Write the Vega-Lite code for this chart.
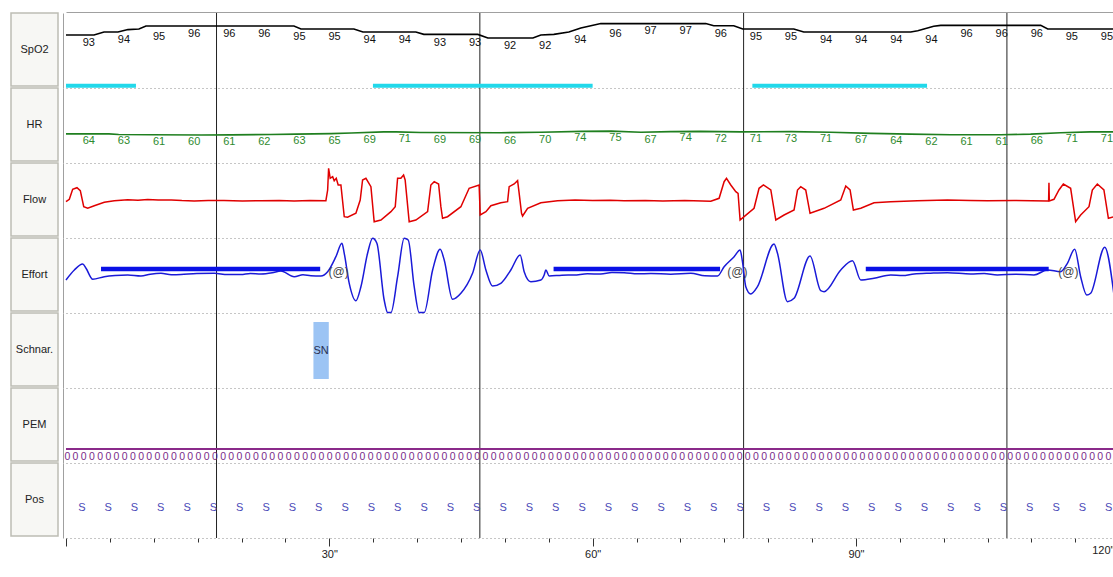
{
 "$schema": "https://vega.github.io/schema/vega-lite/v6.json",
 "background": "white",
 "padding": {"left": 10, "top": 12, "right": 0, "bottom": 0},
 "spacing": 3,
 "config": {"view": {"stroke": null}, "axis": {"grid": false}},
 "datasets": {
  "epochs": [{"t": 17.15}, {"t": 47.15}, {"t": 77.2}, {"t": 107.2}],
  "spo2_line": [
   {"t": 0, "spo2": 93}, {"t": 3.19, "spo2": 93}, {"t": 4.33, "spo2": 94}, {"t": 5.92, "spo2": 94}, {"t": 7.06, "spo2": 94.8}, {"t": 8.31, "spo2": 95}, {"t": 9.11, "spo2": 96}, {"t": 25.97, "spo2": 96}, {"t": 26.77, "spo2": 95}, {"t": 32.8, "spo2": 95}, {"t": 33.83, "spo2": 94}, {"t": 39.86, "spo2": 94}, {"t": 40.77, "spo2": 93.2}, {"t": 46.92, "spo2": 93.2}, {"t": 48.06, "spo2": 92}, {"t": 53.19, "spo2": 92}, {"t": 54.1, "spo2": 93}, {"t": 55.58, "spo2": 93.2}, {"t": 57.29, "spo2": 94}, {"t": 58.66, "spo2": 95.3}, {"t": 60.93, "spo2": 96.8}, {"t": 72.89, "spo2": 96.8}, {"t": 73.8, "spo2": 96.1}, {"t": 76.08, "spo2": 96.1}, {"t": 77.1, "spo2": 95}, {"t": 82.92, "spo2": 95}, {"t": 84.05, "spo2": 94}, {"t": 96.24, "spo2": 94}, {"t": 97.04, "spo2": 94.4}, {"t": 98.86, "spo2": 95.9}, {"t": 99.66, "spo2": 96.2}, {"t": 111.05, "spo2": 96.2}, {"t": 111.85, "spo2": 95}, {"t": 119.4, "spo2": 95}
  ],
  "spo2_labels": [
   {"t": 2.6, "spo2": 93}, {"t": 6.6, "spo2": 94}, {"t": 10.6, "spo2": 95}, {"t": 14.6, "spo2": 96}, {"t": 18.6, "spo2": 96}, {"t": 22.6, "spo2": 96}, {"t": 26.6, "spo2": 95}, {"t": 30.6, "spo2": 95}, {"t": 34.6, "spo2": 94}, {"t": 38.6, "spo2": 94}, {"t": 42.6, "spo2": 93}, {"t": 46.6, "spo2": 93}, {"t": 50.6, "spo2": 92}, {"t": 54.6, "spo2": 92}, {"t": 58.6, "spo2": 94}, {"t": 62.6, "spo2": 96}, {"t": 66.6, "spo2": 97}, {"t": 70.6, "spo2": 97}, {"t": 74.6, "spo2": 96}, {"t": 78.6, "spo2": 95}, {"t": 82.6, "spo2": 95}, {"t": 86.6, "spo2": 94}, {"t": 90.6, "spo2": 94}, {"t": 94.6, "spo2": 94}, {"t": 98.6, "spo2": 94}, {"t": 102.6, "spo2": 96}, {"t": 106.6, "spo2": 96}, {"t": 110.6, "spo2": 96}, {"t": 114.6, "spo2": 95}, {"t": 118.6, "spo2": 95}
  ],
  "desat": [
   {"start": 0, "end": 7.97, "event": "desat"}, {"start": 34.97, "end": 60.0, "event": "desat"}, {"start": 78.2, "end": 98.1, "event": "desat"}
  ],
  "hr_line": [
   {"t": 0, "hr": 64}, {"t": 4.9, "hr": 64}, {"t": 6.0, "hr": 62}, {"t": 9.7, "hr": 61}, {"t": 15.4, "hr": 60}, {"t": 18.8, "hr": 60.5}, {"t": 23.3, "hr": 62}, {"t": 26.2, "hr": 63}, {"t": 30.2, "hr": 65}, {"t": 32.5, "hr": 67}, {"t": 36.2, "hr": 71}, {"t": 37.6, "hr": 71}, {"t": 40.4, "hr": 69}, {"t": 49.5, "hr": 68}, {"t": 54.1, "hr": 70}, {"t": 58.7, "hr": 73}, {"t": 62.1, "hr": 74}, {"t": 65.5, "hr": 70}, {"t": 68.9, "hr": 72}, {"t": 72.3, "hr": 73}, {"t": 76.9, "hr": 71}, {"t": 82.6, "hr": 72}, {"t": 87.1, "hr": 70}, {"t": 91.7, "hr": 66}, {"t": 96.2, "hr": 63}, {"t": 100.8, "hr": 61}, {"t": 106.5, "hr": 61}, {"t": 109.9, "hr": 63}, {"t": 113.3, "hr": 68}, {"t": 116.7, "hr": 71}, {"t": 119.4, "hr": 71}
  ],
  "hr_labels": [
   {"t": 2.6, "hr": 64}, {"t": 6.6, "hr": 63}, {"t": 10.6, "hr": 61}, {"t": 14.6, "hr": 60}, {"t": 18.6, "hr": 61}, {"t": 22.6, "hr": 62}, {"t": 26.6, "hr": 63}, {"t": 30.6, "hr": 65}, {"t": 34.6, "hr": 69}, {"t": 38.6, "hr": 71}, {"t": 42.6, "hr": 69}, {"t": 46.6, "hr": 69}, {"t": 50.6, "hr": 66}, {"t": 54.6, "hr": 70}, {"t": 58.6, "hr": 74}, {"t": 62.6, "hr": 75}, {"t": 66.6, "hr": 67}, {"t": 70.6, "hr": 74}, {"t": 74.6, "hr": 72}, {"t": 78.6, "hr": 71}, {"t": 82.6, "hr": 73}, {"t": 86.6, "hr": 71}, {"t": 90.6, "hr": 67}, {"t": 94.6, "hr": 64}, {"t": 98.6, "hr": 62}, {"t": 102.6, "hr": 61}, {"t": 106.6, "hr": 61}, {"t": 110.6, "hr": 66}, {"t": 114.6, "hr": 71}, {"t": 118.6, "hr": 71}
  ],
  "flow": [
   {"t": 0, "v": -1}, {"t": 0.38, "v": 1.4}, {"t": 0.76, "v": 11.4}, {"t": 1.25, "v": 13}, {"t": 1.63, "v": 10}, {"t": 2.02, "v": -6}, {"t": 2.47, "v": -7.6}, {"t": 3.22, "v": -5}, {"t": 4.36, "v": -1.6}, {"t": 5.5, "v": 0}, {"t": 7.03, "v": 1}, {"t": 8.2, "v": 0.4}, {"t": 9.31, "v": 1.2}, {"t": 10.5, "v": 0.6}, {"t": 12, "v": 0.8}, {"t": 13.2, "v": 0.1}, {"t": 14.61, "v": -0.3}, {"t": 16.2, "v": 0.3}, {"t": 18, "v": 0.3}, {"t": 20.1, "v": -0.2}, {"t": 22.21, "v": 0}, {"t": 24.3, "v": 0.3}, {"t": 26, "v": -0.4}, {"t": 27.8, "v": 0.2}, {"t": 29.61, "v": 0},
   {"t": 29.81, "v": 10.7}, {"t": 29.92, "v": 32.4}, {"t": 30.1, "v": 22.4}, {"t": 30.38, "v": 24}, {"t": 30.56, "v": 20}, {"t": 30.79, "v": 22.4}, {"t": 31.01, "v": 15.7}, {"t": 31.32, "v": 15.7}, {"t": 31.7, "v": -16}, {"t": 32.08, "v": -16.6}, {"t": 33.03, "v": -12.6}, {"t": 33.52, "v": 0.7}, {"t": 33.79, "v": 20.7}, {"t": 34.17, "v": 22.4}, {"t": 34.74, "v": 14}, {"t": 35.11, "v": -21}, {"t": 35.88, "v": -19.3}, {"t": 37.02, "v": -11}, {"t": 37.51, "v": -6}, {"t": 37.78, "v": 22.4}, {"t": 38.15, "v": 22.4}, {"t": 38.46, "v": 25.7}, {"t": 38.64, "v": 20.7}, {"t": 39.1, "v": -21}, {"t": 39.86, "v": -19.3}, {"t": 41.2, "v": -11}, {"t": 41.57, "v": 15.7}, {"t": 41.95, "v": 19}, {"t": 42.45, "v": 16.7}, {"t": 42.71, "v": -6}, {"t": 42.9, "v": -17.6}, {"t": 43.47, "v": -16}, {"t": 44.99, "v": -6}, {"t": 45.93, "v": 12.4}, {"t": 47.07, "v": 15.7}, {"t": 47.19, "v": -14.3}, {"t": 47.84, "v": -11}, {"t": 48.41, "v": -5}, {"t": 49.54, "v": -2}, {"t": 50.31, "v": -1}, {"t": 50.49, "v": 14}, {"t": 51.06, "v": 16.7}, {"t": 51.45, "v": 20}, {"t": 51.63, "v": 7.4}, {"t": 51.9, "v": -12.6}, {"t": 52.02, "v": -15.3}, {"t": 52.59, "v": -7.6}, {"t": 54.1, "v": -2}, {"t": 56, "v": 0}, {"t": 58, "v": 0.6}, {"t": 60, "v": 0.2}, {"t": 62, "v": 0.5}, {"t": 63.59, "v": 0}, {"t": 66, "v": 0.3}, {"t": 68, "v": -0.2}, {"t": 70.5, "v": 0.3}, {"t": 73.46, "v": -0.6},
   {"t": 74.41, "v": 2.4}, {"t": 74.98, "v": 19}, {"t": 75.25, "v": 22.4}, {"t": 75.74, "v": 15.7}, {"t": 76.31, "v": 9}, {"t": 76.57, "v": 7.4}, {"t": 76.8, "v": -19.3}, {"t": 77.26, "v": -16}, {"t": 78.39, "v": -7.6}, {"t": 78.96, "v": 12.4}, {"t": 79.46, "v": 15.7}, {"t": 80.3, "v": 10.7}, {"t": 80.87, "v": -19.3}, {"t": 81.81, "v": -14.3}, {"t": 82.95, "v": -9.3}, {"t": 83.34, "v": 10.7}, {"t": 83.71, "v": 14}, {"t": 84.28, "v": 10.7}, {"t": 84.77, "v": -12.6}, {"t": 86.37, "v": -7.6}, {"t": 88.27, "v": 0.7}, {"t": 88.84, "v": 14.7}, {"t": 89.33, "v": 10.7}, {"t": 89.71, "v": -9.3}, {"t": 90.55, "v": -7.6}, {"t": 92.06, "v": -2}, {"t": 93.96, "v": -1}, {"t": 97, "v": 0}, {"t": 100.42, "v": 0.7}, {"t": 103, "v": 0.1}, {"t": 105, "v": 0}, {"t": 108, "v": 0.3}, {"t": 111.81, "v": -0.3}, {"t": 111.95, "v": -0.3}, {"t": 111.99, "v": 18}, {"t": 112.03, "v": -0.3}, {"t": 112.56, "v": 1.4}, {"t": 113.13, "v": 10.7}, {"t": 113.63, "v": 16.7}, {"t": 114.46, "v": 12.4}, {"t": 115.03, "v": -21}, {"t": 115.6, "v": -14.3}, {"t": 116.55, "v": -6}, {"t": 116.93, "v": 10.7}, {"t": 117.5, "v": 16.7}, {"t": 118.25, "v": 10.7}, {"t": 118.76, "v": -17.6}, {"t": 119.4, "v": -16}
  ],
  "effort": [
   {"t": 0, "v": -5}, {"t": 0.95, "v": 5}, {"t": 1.9, "v": 11}, {"t": 2.28, "v": 6.7}, {"t": 3.04, "v": -4.3}, {"t": 4.36, "v": -1.7}, {"t": 5.6, "v": -0.5}, {"t": 7.03, "v": 0}, {"t": 8.54, "v": -1}, {"t": 9.6, "v": 0.8}, {"t": 10.82, "v": 1.7}, {"t": 12.0, "v": 0.3}, {"t": 13.1, "v": 0.5}, {"t": 14.9, "v": 1.6}, {"t": 16.89, "v": 1.7}, {"t": 18.4, "v": 0.4}, {"t": 19.93, "v": 0.5}, {"t": 21.0, "v": 1.6}, {"t": 22.21, "v": 1}, {"t": 23.5, "v": 2.2}, {"t": 24.49, "v": 4}, {"t": 26.0, "v": -1.7}, {"t": 27.0, "v": 0.2}, {"t": 27.9, "v": -0.8}, {"t": 29.04, "v": -1}, {"t": 29.81, "v": 3.3},
   {"t": 30.75, "v": 18.3}, {"t": 31.44, "v": 31.7}, {"t": 31.7, "v": 21.7}, {"t": 32.27, "v": -8.3}, {"t": 33.03, "v": -25.7}, {"t": 33.6, "v": -11.7}, {"t": 34.36, "v": 21.7}, {"t": 34.93, "v": 36.7}, {"t": 35.42, "v": 31.7}, {"t": 36.25, "v": -25}, {"t": 36.64, "v": -37.5}, {"t": 37.02, "v": -37.5}, {"t": 37.78, "v": -1.7}, {"t": 38.53, "v": 36.7}, {"t": 38.99, "v": 35}, {"t": 39.67, "v": -11.7}, {"t": 40.24, "v": -37.5}, {"t": 40.81, "v": -37.5}, {"t": 41.77, "v": 5}, {"t": 42.63, "v": 25.7}, {"t": 43.09, "v": 15}, {"t": 44.04, "v": -24.3}, {"t": 44.99, "v": -18.3}, {"t": 46.32, "v": 1.7}, {"t": 47.19, "v": 25}, {"t": 47.84, "v": 5}, {"t": 48.6, "v": -11}, {"t": 49.54, "v": -8.3}, {"t": 50.68, "v": 5}, {"t": 51.74, "v": 20}, {"t": 52.2, "v": 3.3}, {"t": 52.96, "v": -6.7}, {"t": 54.1, "v": -5}, {"t": 54.48, "v": 0}, {"t": 54.67, "v": 5}, {"t": 55.05, "v": -1}, {"t": 56.5, "v": -0.2}, {"t": 57.89, "v": 0}, {"t": 59.4, "v": 1.2}, {"t": 60.93, "v": 1}, {"t": 62.2, "v": 2.4}, {"t": 63.59, "v": 2.3}, {"t": 65.1, "v": 1.2}, {"t": 66.63, "v": 1.5}, {"t": 68.9, "v": 0.8}, {"t": 71.18, "v": 1.7}, {"t": 72.8, "v": -0.8}, {"t": 74.23, "v": -1},
   {"t": 74.98, "v": 8.3}, {"t": 76.12, "v": 18.3}, {"t": 76.8, "v": 25}, {"t": 77.07, "v": 13.3}, {"t": 77.45, "v": -11.7}, {"t": 78.02, "v": -19}, {"t": 78.78, "v": -11.7}, {"t": 80.67, "v": 31}, {"t": 81.06, "v": 21.7}, {"t": 82.2, "v": -26.7}, {"t": 82.95, "v": -23.3}, {"t": 84.77, "v": 19}, {"t": 85.99, "v": -15.7}, {"t": 86.37, "v": -16.7}, {"t": 88.27, "v": 5}, {"t": 89.6, "v": 14.3}, {"t": 90.55, "v": -5}, {"t": 92.06, "v": -3.3}, {"t": 93.96, "v": 0}, {"t": 95.3, "v": -0.6}, {"t": 96.62, "v": 1}, {"t": 98.5, "v": 1.8}, {"t": 100.42, "v": 2.3}, {"t": 103.07, "v": 1}, {"t": 104.6, "v": 1.6}, {"t": 106.11, "v": 0}, {"t": 108.2, "v": 0.8}, {"t": 110.28, "v": 0}, {"t": 111.81, "v": 5}, {"t": 113.32, "v": 3.3}, {"t": 114.09, "v": 11.7}, {"t": 114.92, "v": 25.7}, {"t": 115.6, "v": -1.7}, {"t": 116.29, "v": -20}, {"t": 116.74, "v": -18.3}, {"t": 118.34, "v": 27.7}, {"t": 119.4, "v": -20}
  ],
  "apnea": [
   {"start": 3.99, "end": 28.96, "event": "apnea"}, {"start": 55.55, "end": 74.52, "event": "apnea"}, {"start": 91.12, "end": 111.96, "event": "apnea"}
  ],
  "arousal": [
   {"t": 31.06, "event": "apnea", "label": "(@)"}, {"t": 76.5, "event": "apnea", "label": "(@)"}, {"t": 114.2, "event": "apnea", "label": "(@)"}
  ],
  "snore": [{"start": 28.19, "end": 29.94, "mid": 29.07, "event": "SN"}],
  "pem_line": [{"t": 0, "v": 0}, {"t": 119.4, "v": 0}],
  "pem": [
   {"t": 0.15, "v": 0}, {"t": 1.08, "v": 0}, {"t": 2.02, "v": 0}, {"t": 2.95, "v": 0}, {"t": 3.89, "v": 0}, {"t": 4.82, "v": 0}, {"t": 5.75, "v": 0}, {"t": 6.69, "v": 0}, {"t": 7.62, "v": 0}, {"t": 8.56, "v": 0},
   {"t": 9.49, "v": 0}, {"t": 10.42, "v": 0}, {"t": 11.36, "v": 0}, {"t": 12.29, "v": 0}, {"t": 13.23, "v": 0}, {"t": 14.16, "v": 0}, {"t": 15.09, "v": 0}, {"t": 16.03, "v": 0}, {"t": 16.96, "v": 0}, {"t": 17.9, "v": 0},
   {"t": 18.83, "v": 0}, {"t": 19.76, "v": 0}, {"t": 20.7, "v": 0}, {"t": 21.63, "v": 0}, {"t": 22.57, "v": 0}, {"t": 23.5, "v": 0}, {"t": 24.43, "v": 0}, {"t": 25.37, "v": 0}, {"t": 26.3, "v": 0}, {"t": 27.24, "v": 0},
   {"t": 28.17, "v": 0}, {"t": 29.1, "v": 0}, {"t": 30.04, "v": 0}, {"t": 30.97, "v": 0}, {"t": 31.91, "v": 0}, {"t": 32.84, "v": 0}, {"t": 33.77, "v": 0}, {"t": 34.71, "v": 0}, {"t": 35.64, "v": 0}, {"t": 36.58, "v": 0},
   {"t": 37.51, "v": 0}, {"t": 38.44, "v": 0}, {"t": 39.38, "v": 0}, {"t": 40.31, "v": 0}, {"t": 41.25, "v": 0}, {"t": 42.18, "v": 0}, {"t": 43.11, "v": 0}, {"t": 44.05, "v": 0}, {"t": 44.98, "v": 0}, {"t": 45.92, "v": 0},
   {"t": 46.85, "v": 0}, {"t": 47.78, "v": 0}, {"t": 48.72, "v": 0}, {"t": 49.65, "v": 0}, {"t": 50.59, "v": 0}, {"t": 51.52, "v": 0}, {"t": 52.45, "v": 0}, {"t": 53.39, "v": 0}, {"t": 54.32, "v": 0}, {"t": 55.26, "v": 0},
   {"t": 56.19, "v": 0}, {"t": 57.12, "v": 0}, {"t": 58.06, "v": 0}, {"t": 58.99, "v": 0}, {"t": 59.93, "v": 0}, {"t": 60.86, "v": 0}, {"t": 61.79, "v": 0}, {"t": 62.73, "v": 0}, {"t": 63.66, "v": 0}, {"t": 64.6, "v": 0},
   {"t": 65.53, "v": 0}, {"t": 66.46, "v": 0}, {"t": 67.4, "v": 0}, {"t": 68.33, "v": 0}, {"t": 69.27, "v": 0}, {"t": 70.2, "v": 0}, {"t": 71.13, "v": 0}, {"t": 72.07, "v": 0}, {"t": 73.0, "v": 0}, {"t": 73.94, "v": 0},
   {"t": 74.87, "v": 0}, {"t": 75.8, "v": 0}, {"t": 76.74, "v": 0}, {"t": 77.67, "v": 0}, {"t": 78.61, "v": 0}, {"t": 79.54, "v": 0}, {"t": 80.47, "v": 0}, {"t": 81.41, "v": 0}, {"t": 82.34, "v": 0}, {"t": 83.28, "v": 0},
   {"t": 84.21, "v": 0}, {"t": 85.14, "v": 0}, {"t": 86.08, "v": 0}, {"t": 87.01, "v": 0}, {"t": 87.95, "v": 0}, {"t": 88.88, "v": 0}, {"t": 89.81, "v": 0}, {"t": 90.75, "v": 0}, {"t": 91.68, "v": 0}, {"t": 92.62, "v": 0},
   {"t": 93.55, "v": 0}, {"t": 94.48, "v": 0}, {"t": 95.42, "v": 0}, {"t": 96.35, "v": 0}, {"t": 97.29, "v": 0}, {"t": 98.22, "v": 0}, {"t": 99.15, "v": 0}, {"t": 100.09, "v": 0}, {"t": 101.02, "v": 0}, {"t": 101.96, "v": 0},
   {"t": 102.89, "v": 0}, {"t": 103.82, "v": 0}, {"t": 104.76, "v": 0}, {"t": 105.69, "v": 0}, {"t": 106.63, "v": 0}, {"t": 107.56, "v": 0}, {"t": 108.49, "v": 0}, {"t": 109.43, "v": 0}, {"t": 110.36, "v": 0}, {"t": 111.3, "v": 0},
   {"t": 112.23, "v": 0}, {"t": 113.16, "v": 0}, {"t": 114.1, "v": 0}, {"t": 115.03, "v": 0}, {"t": 115.97, "v": 0}, {"t": 116.9, "v": 0}, {"t": 117.83, "v": 0}, {"t": 118.77, "v": 0}
  ],
  "pos": [
   {"t": 1.8, "pos": "S"}, {"t": 4.8, "pos": "S"}, {"t": 7.8, "pos": "S"}, {"t": 10.8, "pos": "S"}, {"t": 13.8, "pos": "S"}, {"t": 16.8, "pos": "S"}, {"t": 19.8, "pos": "S"}, {"t": 22.8, "pos": "S"}, {"t": 25.8, "pos": "S"}, {"t": 28.8, "pos": "S"},
   {"t": 31.8, "pos": "S"}, {"t": 34.8, "pos": "S"}, {"t": 37.8, "pos": "S"}, {"t": 40.8, "pos": "S"}, {"t": 43.8, "pos": "S"}, {"t": 46.8, "pos": "S"}, {"t": 49.8, "pos": "S"}, {"t": 52.8, "pos": "S"}, {"t": 55.8, "pos": "S"}, {"t": 58.8, "pos": "S"},
   {"t": 61.8, "pos": "S"}, {"t": 64.8, "pos": "S"}, {"t": 67.8, "pos": "S"}, {"t": 70.8, "pos": "S"}, {"t": 73.8, "pos": "S"}, {"t": 76.8, "pos": "S"}, {"t": 79.8, "pos": "S"}, {"t": 82.8, "pos": "S"}, {"t": 85.8, "pos": "S"}, {"t": 88.8, "pos": "S"},
   {"t": 91.8, "pos": "S"}, {"t": 94.8, "pos": "S"}, {"t": 97.8, "pos": "S"}, {"t": 100.8, "pos": "S"}, {"t": 103.8, "pos": "S"}, {"t": 106.8, "pos": "S"}, {"t": 109.8, "pos": "S"}, {"t": 112.8, "pos": "S"}, {"t": 115.8, "pos": "S"}, {"t": 118.8, "pos": "S"}
  ]
 },
 "hconcat": [
  {
   "bounds": "flush",
   "spacing": 2,
   "vconcat": [
    {"width": 47, "height": 73, "view": {"fill": "#f7f7f4", "stroke": "#bdbdb4", "strokeWidth": 1.5}, "data": {"values": [{"label": "SpO2"}]}, "mark": {"type": "text", "font": "Liberation Sans", "fontSize": 11, "color": "#222222"}, "encoding": {"text": {"field": "label"}}},
    {"width": 47, "height": 73, "view": {"fill": "#f7f7f4", "stroke": "#bdbdb4", "strokeWidth": 1.5}, "data": {"values": [{"label": "HR"}]}, "mark": {"type": "text", "font": "Liberation Sans", "fontSize": 11, "color": "#222222"}, "encoding": {"text": {"field": "label"}}},
    {"width": 47, "height": 73, "view": {"fill": "#f7f7f4", "stroke": "#bdbdb4", "strokeWidth": 1.5}, "data": {"values": [{"label": "Flow"}]}, "mark": {"type": "text", "font": "Liberation Sans", "fontSize": 11, "color": "#222222"}, "encoding": {"text": {"field": "label"}}},
    {"width": 47, "height": 73, "view": {"fill": "#f7f7f4", "stroke": "#bdbdb4", "strokeWidth": 1.5}, "data": {"values": [{"label": "Effort"}]}, "mark": {"type": "text", "font": "Liberation Sans", "fontSize": 11, "color": "#222222"}, "encoding": {"text": {"field": "label"}}},
    {"width": 47, "height": 73, "view": {"fill": "#f7f7f4", "stroke": "#bdbdb4", "strokeWidth": 1.5}, "data": {"values": [{"label": "Schnar."}]}, "mark": {"type": "text", "font": "Liberation Sans", "fontSize": 11, "color": "#222222"}, "encoding": {"text": {"field": "label"}}},
    {"width": 47, "height": 73, "view": {"fill": "#f7f7f4", "stroke": "#bdbdb4", "strokeWidth": 1.5}, "data": {"values": [{"label": "PEM"}]}, "mark": {"type": "text", "font": "Liberation Sans", "fontSize": 11, "color": "#222222"}, "encoding": {"text": {"field": "label"}}},
    {"width": 47, "height": 73, "view": {"fill": "#f7f7f4", "stroke": "#bdbdb4", "strokeWidth": 1.5}, "data": {"values": [{"label": "Pos"}]}, "mark": {"type": "text", "font": "Liberation Sans", "fontSize": 11, "color": "#222222"}, "encoding": {"text": {"field": "label"}}}
   ]
  },
  {
   "bounds": "flush",
   "spacing": 0,
   "vconcat": [
    {
     "width": 1048, "height": 75,
     "resolve": {"scale": {"y": "independent"}},
     "layer": [
      {"data": {"name": "epochs"}, "mark": {"type": "rule", "color": "#222222", "strokeWidth": 1},
       "encoding": {"x": {"field": "t", "type": "quantitative", "scale": {"domain": [0, 119.4], "nice": false, "zero": false}, "axis": null}}},
      {"data": {"name": "spo2_line"}, "mark": {"type": "line", "color": "#000000", "strokeWidth": 1.6},
       "encoding": {
        "x": {"field": "t", "type": "quantitative", "scale": {"domain": [0, 119.4], "nice": false, "zero": false}, "axis": {"orient": "bottom", "domain": true, "domainColor": "#8c8c8c", "domainDash": [1, 3], "labels": false, "ticks": false, "title": null, "grid": false}},
        "y": {"field": "spo2", "type": "quantitative", "scale": {"domain": [75.33, 100.33], "nice": false, "zero": false}, "axis": {"domain": true, "domainColor": "#a0a0a0", "labels": false, "ticks": false, "title": null, "grid": false, "offset": 3}}}},
      {"data": {"name": "spo2_labels"}, "mark": {"type": "text", "font": "Liberation Sans", "fontSize": 11, "color": "#111111", "dy": 8, "baseline": "middle"},
       "encoding": {
        "x": {"field": "t", "type": "quantitative", "scale": {"domain": [0, 119.4], "nice": false, "zero": false}, "axis": {"orient": "top", "domain": true, "domainColor": "#a0a0a0", "labels": false, "ticks": false, "title": null, "grid": false, "offset": 1}},
        "y": {"field": "spo2", "type": "quantitative", "scale": {"domain": [75.33, 100.33], "nice": false, "zero": false}, "axis": null},
        "text": {"field": "spo2", "type": "quantitative"}}},
      {"data": {"name": "desat"}, "mark": {"type": "rule", "color": "#22d8ea", "strokeWidth": 4},
       "encoding": {
        "x": {"field": "start", "type": "quantitative", "scale": {"domain": [0, 119.4], "nice": false, "zero": false}, "axis": null},
        "x2": {"field": "end"},
        "y": {"field": "event", "type": "nominal", "scale": {"type": "point", "padding": 0.5, "align": 0.97}, "axis": null}}}
     ]
    },
    {
     "width": 1048, "height": 75,
     "layer": [
      {"data": {"name": "epochs"}, "mark": {"type": "rule", "color": "#222222", "strokeWidth": 1},
       "encoding": {"x": {"field": "t", "type": "quantitative", "scale": {"domain": [0, 119.4], "nice": false, "zero": false}, "axis": {"orient": "bottom", "domain": true, "domainColor": "#8c8c8c", "domainDash": [1, 3], "labels": false, "ticks": false, "title": null, "grid": false}}}},
      {"data": {"name": "hr_line"}, "mark": {"type": "line", "color": "#1f7f1f", "strokeWidth": 1.6},
       "encoding": {
        "x": {"field": "t", "type": "quantitative", "scale": {"domain": [0, 119.4], "nice": false, "zero": false}, "axis": {"orient": "bottom", "domain": true, "domainColor": "#8c8c8c", "domainDash": [1, 3], "labels": false, "ticks": false, "title": null, "grid": false}},
        "y": {"field": "hr", "type": "quantitative", "scale": {"domain": [-39.6, 227.3], "nice": false, "zero": false}, "axis": {"domain": true, "domainColor": "#a0a0a0", "labels": false, "ticks": false, "title": null, "grid": false, "offset": 3}}}},
      {"data": {"name": "hr_labels"}, "mark": {"type": "text", "font": "Liberation Sans", "fontSize": 11, "color": "#2e8a2e", "dy": 7.3, "baseline": "middle"},
       "encoding": {
        "x": {"field": "t", "type": "quantitative", "scale": {"domain": [0, 119.4], "nice": false, "zero": false}, "axis": {"orient": "bottom", "domain": true, "domainColor": "#8c8c8c", "domainDash": [1, 3], "labels": false, "ticks": false, "title": null, "grid": false}},
        "y": {"field": "hr", "type": "quantitative", "scale": {"domain": [-39.6, 227.3], "nice": false, "zero": false}, "axis": {"domain": true, "domainColor": "#a0a0a0", "labels": false, "ticks": false, "title": null, "grid": false, "offset": 3}},
        "text": {"field": "hr", "type": "quantitative"}}}
     ]
    },
    {
     "width": 1048, "height": 75,
     "layer": [
      {"data": {"name": "epochs"}, "mark": {"type": "rule", "color": "#222222", "strokeWidth": 1},
       "encoding": {"x": {"field": "t", "type": "quantitative", "scale": {"domain": [0, 119.4], "nice": false, "zero": false}, "axis": {"orient": "bottom", "domain": true, "domainColor": "#8c8c8c", "domainDash": [1, 3], "labels": false, "ticks": false, "title": null, "grid": false}}}},
      {"data": {"name": "flow"}, "mark": {"type": "line", "color": "#e00000", "strokeWidth": 1.5},
       "encoding": {
        "x": {"field": "t", "type": "quantitative", "scale": {"domain": [0, 119.4], "nice": false, "zero": false}, "axis": {"orient": "bottom", "domain": true, "domainColor": "#8c8c8c", "domainDash": [1, 3], "labels": false, "ticks": false, "title": null, "grid": false}},
        "y": {"field": "v", "type": "quantitative", "scale": {"domain": [-37.3, 37.7], "nice": false, "zero": false}, "axis": {"domain": true, "domainColor": "#a0a0a0", "labels": false, "ticks": false, "title": null, "grid": false, "offset": 3}}}}
     ]
    },
    {
     "width": 1048, "height": 75,
     "resolve": {"scale": {"y": "independent"}},
     "layer": [
      {"data": {"name": "epochs"}, "mark": {"type": "rule", "color": "#222222", "strokeWidth": 1},
       "encoding": {"x": {"field": "t", "type": "quantitative", "scale": {"domain": [0, 119.4], "nice": false, "zero": false}, "axis": {"orient": "bottom", "domain": true, "domainColor": "#8c8c8c", "domainDash": [1, 3], "labels": false, "ticks": false, "title": null, "grid": false}}}},
      {"data": {"name": "effort"}, "mark": {"type": "line", "color": "#1a1ad8", "strokeWidth": 1.5, "interpolate": "monotone"},
       "encoding": {
        "x": {"field": "t", "type": "quantitative", "scale": {"domain": [0, 119.4], "nice": false, "zero": false}, "axis": {"orient": "bottom", "domain": true, "domainColor": "#8c8c8c", "domainDash": [1, 3], "labels": false, "ticks": false, "title": null, "grid": false}},
        "y": {"field": "v", "type": "quantitative", "scale": {"domain": [-38, 37], "nice": false, "zero": false}, "axis": {"domain": true, "domainColor": "#a0a0a0", "labels": false, "ticks": false, "title": null, "grid": false, "offset": 3}}}},
      {"data": {"name": "apnea"}, "mark": {"type": "rule", "color": "#0a10e6", "strokeWidth": 4.5},
       "encoding": {
        "x": {"field": "start", "type": "quantitative", "scale": {"domain": [0, 119.4], "nice": false, "zero": false}, "axis": {"orient": "bottom", "domain": true, "domainColor": "#8c8c8c", "domainDash": [1, 3], "labels": false, "ticks": false, "title": null, "grid": false}},
        "x2": {"field": "end"},
        "y": {"field": "event", "type": "nominal", "scale": {"type": "point", "padding": 0.5, "align": 0.413}, "axis": null}}},
      {"data": {"name": "arousal"}, "mark": {"type": "text", "font": "Liberation Sans", "fontSize": 12, "color": "#444444", "dy": 3, "baseline": "middle"},
       "encoding": {
        "x": {"field": "t", "type": "quantitative", "scale": {"domain": [0, 119.4], "nice": false, "zero": false}, "axis": {"orient": "bottom", "domain": true, "domainColor": "#8c8c8c", "domainDash": [1, 3], "labels": false, "ticks": false, "title": null, "grid": false}},
        "y": {"field": "event", "type": "nominal", "scale": {"type": "point", "padding": 0.5, "align": 0.413}, "axis": null},
        "text": {"field": "label"}}}
     ]
    },
    {
     "width": 1048, "height": 75,
     "layer": [
      {"data": {"name": "epochs"}, "mark": {"type": "rule", "color": "#222222", "strokeWidth": 1},
       "encoding": {"x": {"field": "t", "type": "quantitative", "scale": {"domain": [0, 119.4], "nice": false, "zero": false}, "axis": {"orient": "bottom", "domain": true, "domainColor": "#8c8c8c", "domainDash": [1, 3], "labels": false, "ticks": false, "title": null, "grid": false}}}},
      {"data": {"name": "snore"}, "mark": {"type": "rect", "color": "#9cc4f4", "opacity": 1},
       "encoding": {
        "x": {"field": "start", "type": "quantitative", "scale": {"domain": [0, 119.4], "nice": false, "zero": false}, "axis": {"orient": "bottom", "domain": true, "domainColor": "#8c8c8c", "domainDash": [1, 3], "labels": false, "ticks": false, "title": null, "grid": false}},
        "x2": {"field": "end"},
        "y": {"field": "event", "type": "nominal", "scale": {"type": "band", "paddingInner": 0, "paddingOuter": 0.158, "align": 0.5}, "axis": {"domain": true, "domainColor": "#a0a0a0", "labels": false, "ticks": false, "title": null, "grid": false, "offset": 3}}}},
      {"data": {"name": "snore"}, "mark": {"type": "text", "font": "Liberation Sans", "fontSize": 11, "color": "#2a3050"},
       "encoding": {
        "x": {"field": "mid", "type": "quantitative", "scale": {"domain": [0, 119.4], "nice": false, "zero": false}, "axis": {"orient": "bottom", "domain": true, "domainColor": "#8c8c8c", "domainDash": [1, 3], "labels": false, "ticks": false, "title": null, "grid": false}},
        "y": {"field": "event", "type": "nominal", "axis": {"domain": true, "domainColor": "#a0a0a0", "labels": false, "ticks": false, "title": null, "grid": false, "offset": 3}},
        "text": {"field": "event"}}}
     ]
    },
    {
     "width": 1048, "height": 75,
     "layer": [
      {"data": {"name": "epochs"}, "mark": {"type": "rule", "color": "#222222", "strokeWidth": 1},
       "encoding": {"x": {"field": "t", "type": "quantitative", "scale": {"domain": [0, 119.4], "nice": false, "zero": false}, "axis": {"orient": "bottom", "domain": true, "domainColor": "#8c8c8c", "domainDash": [1, 3], "labels": false, "ticks": false, "title": null, "grid": false}}}},
      {"data": {"name": "pem_line"}, "mark": {"type": "line", "color": "#8a2a8a", "strokeWidth": 2},
       "encoding": {
        "x": {"field": "t", "type": "quantitative", "scale": {"domain": [0, 119.4], "nice": false, "zero": false}, "axis": {"orient": "bottom", "domain": true, "domainColor": "#8c8c8c", "domainDash": [1, 3], "labels": false, "ticks": false, "title": null, "grid": false}},
        "y": {"field": "v", "type": "quantitative", "scale": {"domain": [-14, 61], "nice": false, "zero": false}, "axis": {"domain": true, "domainColor": "#a0a0a0", "labels": false, "ticks": false, "title": null, "grid": false, "offset": 3}}}},
      {"data": {"name": "pem"}, "mark": {"type": "text", "font": "Liberation Sans", "fontSize": 10.5, "color": "#7a2a8a", "dy": 7.5, "baseline": "middle"},
       "encoding": {
        "x": {"field": "t", "type": "quantitative", "scale": {"domain": [0, 119.4], "nice": false, "zero": false}, "axis": {"orient": "bottom", "domain": true, "domainColor": "#8c8c8c", "domainDash": [1, 3], "labels": false, "ticks": false, "title": null, "grid": false}},
        "y": {"field": "v", "type": "quantitative", "scale": {"domain": [-14, 61], "nice": false, "zero": false}, "axis": {"domain": true, "domainColor": "#a0a0a0", "labels": false, "ticks": false, "title": null, "grid": false, "offset": 3}},
        "text": {"field": "v", "type": "quantitative"}}}
     ]
    },
    {
     "width": 1048, "height": 75,
     "layer": [
      {"data": {"name": "epochs"}, "mark": {"type": "rule", "color": "#222222", "strokeWidth": 1},
       "encoding": {"x": {"field": "t", "type": "quantitative", "scale": {"domain": [0, 119.4], "nice": false, "zero": false},
         "axis": {"orient": "bottom", "domain": true, "domainColor": "#8c8c8c", "domainDash": [1, 3], "title": null, "grid": false,
          "values": [0, 5, 10, 15, 20, 25, 30, 35, 40, 45, 50, 55, 60, 65, 70, 75, 80, 85, 90, 95, 100, 105, 110, 115, 119.4],
          "ticks": true, "tickColor": "#333333", "tickWidth": 1,
          "tickSize": {"condition": {"test": "datum.value % 30 == 0", "value": 8}, "value": 4},
          "labelExpr": "datum.value > 119 ? '120\"' : ((datum.value % 30 == 0 && datum.value > 0) ? datum.value + '\"' : '')",
          "labelFlush": true, "labelOverlap": false, "labelFont": "Liberation Sans", "labelFontSize": 11, "labelColor": "#222222", "labelPadding": 2}}}},
      {"data": {"name": "pos"}, "mark": {"type": "text", "font": "Liberation Sans", "fontSize": 11, "color": "#4a4ab8", "baseline": "middle"},
       "encoding": {
        "x": {"field": "t", "type": "quantitative", "scale": {"domain": [0, 119.4], "nice": false, "zero": false},
         "axis": {"orient": "bottom", "domain": true, "domainColor": "#8c8c8c", "domainDash": [1, 3], "title": null, "grid": false,
          "values": [0, 5, 10, 15, 20, 25, 30, 35, 40, 45, 50, 55, 60, 65, 70, 75, 80, 85, 90, 95, 100, 105, 110, 115, 119.4],
          "ticks": true, "tickColor": "#333333", "tickWidth": 1,
          "tickSize": {"condition": {"test": "datum.value % 30 == 0", "value": 8}, "value": 4},
          "labelExpr": "datum.value > 119 ? '120\"' : ((datum.value % 30 == 0 && datum.value > 0) ? datum.value + '\"' : '')",
          "labelFlush": true, "labelOverlap": false, "labelFont": "Liberation Sans", "labelFontSize": 11, "labelColor": "#222222", "labelPadding": 2}},
        "y": {"field": "pos", "type": "nominal", "scale": {"type": "point", "padding": 0.5, "align": 0.604}, "axis": {"domain": true, "domainColor": "#a0a0a0", "labels": false, "ticks": false, "title": null, "grid": false, "offset": 3}},
        "text": {"field": "pos"}}}
     ]
    }
   ]
  }
 ]
}
